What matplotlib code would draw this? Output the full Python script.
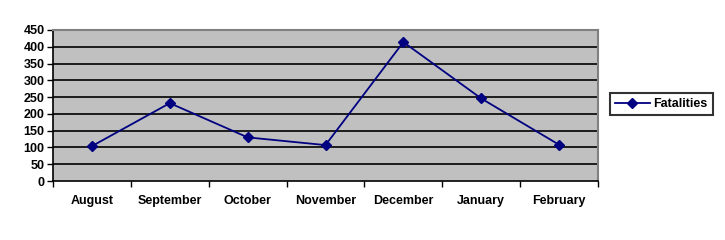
import matplotlib
matplotlib.use("Agg")
import matplotlib.pyplot as plt
import numpy as np

months = ["August", "September", "October", "November", "December", "January", "February"]
fatalities = [104, 232, 130, 107, 414, 246, 108]
yticks = [0, 50, 100, 150, 200, 250, 300, 350, 400, 450]

plt.rcParams['font.family'] = ['Liberation Sans', 'DejaVu Sans']

fig = plt.figure(figsize=(7.25, 2.4), dpi=100)
ax = fig.add_axes([53 / 725, 1 - 181 / 240, 545 / 725, 151 / 240])
ax.set_facecolor("#C0C0C0")

x = np.arange(len(months))
line, = ax.plot(x, fatalities, color="#000080", lw=1.3, marker="D", ms=5,
                label="Fatalities", zorder=3)

ax.set_xlim(-0.5, len(months) - 0.5)
ax.set_ylim(0, 450)
ax.set_yticks(yticks)
ax.set_yticklabels([str(v) for v in yticks], fontsize=9, fontweight="bold")
ax.set_xticks(x)
ax.set_xticklabels(months, fontsize=9, fontweight="bold")
ax.set_xticks(np.arange(len(months) + 1) - 0.5, minor=True)
ax.tick_params(axis="x", which="major", length=0, pad=10)
ax.tick_params(axis="x", which="minor", length=4, width=1, direction="out")
ax.tick_params(axis="y", length=4, width=1, direction="out", pad=2)

for v in yticks[1:-1]:
    ax.axhline(v, color="black", lw=1.2, zorder=1)

for s in ["top", "right"]:
    ax.spines[s].set_color("#808080")
    ax.spines[s].set_linewidth(1.5)
ax.spines["left"].set_linewidth(1.2)
ax.spines["bottom"].set_linewidth(1.2)

leg = fig.legend(handles=[line], loc="center", bbox_to_anchor=(661 / 725, 1 - 104 / 240),
                 prop={"weight": "bold", "size": 9}, frameon=True, fancybox=False,
                 handlelength=2.8, borderpad=0.4, handletextpad=0.3, borderaxespad=0)
leg.get_frame().set_edgecolor("black")
leg.get_frame().set_linewidth(1.5)

fig.savefig("out.png", dpi=100)
